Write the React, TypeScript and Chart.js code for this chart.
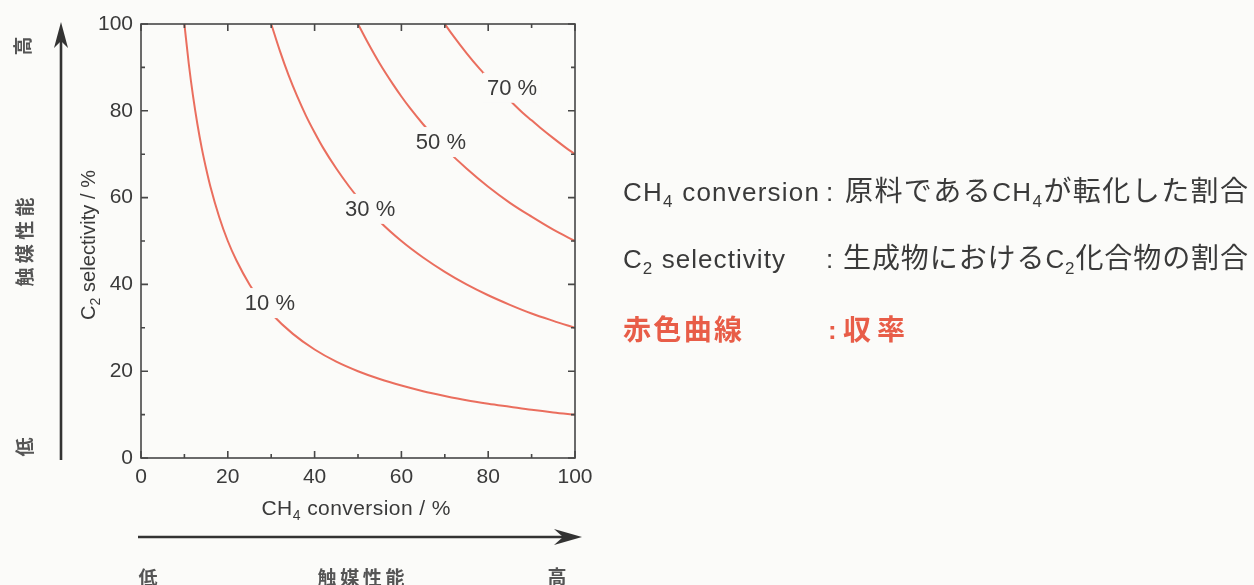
import React, { useEffect, useRef } from "react";
import { Chart, registerables } from "chart.js";
Chart.register(...registerables);

// ---- data ----
const xTicks = [0, 20, 40, 60, 80, 100];
const yTicks = [0, 20, 40, 60, 80, 100];
const minorTicks = [10, 30, 50, 70, 90];

const yieldNames = ["10 %", "30 %", "50 %", "70 %"];
const yieldLabelX = [29.7, 52.8, 69.1, 85.5];
const yieldLabelY = [35.7, 57.4, 72.8, 85.3];

const conv10 = [10, 11, 12, 13, 14, 15, 16, 18, 20, 22, 25, 28, 30, 35, 40, 45, 50, 55, 60, 65, 70, 75, 80, 85, 90, 95, 100];
const sel10 = [100, 90.9, 83.3, 76.9, 71.4, 66.7, 62.5, 55.6, 50, 45.5, 40, 35.7, 33.3, 28.6, 25, 22.2, 20, 18.2, 16.7, 15.4, 14.3, 13.3, 12.5, 11.8, 11.1, 10.5, 10];

const conv30 = [30, 32, 34, 36, 38, 40, 42, 45, 48, 50, 55, 60, 65, 70, 75, 80, 85, 90, 95, 100];
const sel30 = [100, 93.8, 88.2, 83.3, 78.9, 75, 71.4, 66.7, 62.5, 60, 54.5, 50, 46.2, 42.9, 40, 37.5, 35.3, 33.3, 31.6, 30];

const conv50 = [50, 52, 55, 58, 60, 62, 65, 68, 70, 75, 80, 85, 90, 95, 100];
const sel50 = [100, 96.2, 90.9, 86.2, 83.3, 80.6, 76.9, 73.5, 71.4, 66.7, 62.5, 58.8, 55.6, 52.6, 50];

const conv70 = [70, 72, 75, 78, 80, 82, 85, 88, 90, 92, 95, 98, 100];
const sel70 = [100, 97.2, 93.3, 89.7, 87.5, 85.4, 82.4, 79.5, 77.8, 76.1, 73.7, 71.4, 70];

const seriesX = [conv10, conv30, conv50, conv70];
const seriesY = [sel10, sel30, sel50, sel70];

// ---- styles ----
const W = 1254;
const H = 585;
const BG = "#fbfbf9";
const CURVE = "#ea6e5e";
const RED = "#e85d48";
const TEXT = "#3a3a3a";
const FRAME = "#474747";
const LAT = "'Liberation Sans', Arial, sans-serif";
const JP = "'Noto Sans CJK JP', 'Noto Sans CJK SC', sans-serif";

type Seg = { t: string; font: string; dy?: number };

function drawSegs(ctx: CanvasRenderingContext2D, segs: Seg[], x: number, y: number, target?: number) {
  (ctx as any).letterSpacing = "0px";
  const widths = segs.map((s) => {
    ctx.font = s.font;
    return ctx.measureText(s.t).width;
  });
  const natural = widths.reduce((a, b) => a + b, 0);
  const nChars = segs.reduce((a, s) => a + Array.from(s.t).length, 0);
  const extra = target ? (target - natural) / Math.max(1, nChars - 1) : 0;
  let cx = x;
  segs.forEach((s, i) => {
    ctx.font = s.font;
    (ctx as any).letterSpacing = extra + "px";
    ctx.fillText(s.t, cx, y + (s.dy || 0));
    cx += widths[i] + extra * Array.from(s.t).length;
  });
  (ctx as any).letterSpacing = "0px";
  return cx - x;
}

function segsWidth(ctx: CanvasRenderingContext2D, segs: Seg[]) {
  (ctx as any).letterSpacing = "0px";
  return segs.reduce((a, s) => {
    ctx.font = s.font;
    return a + ctx.measureText(s.t).width;
  }, 0);
}

const decor = {
  id: "decor",
  beforeDraw(chart: any) {
    const ctx = chart.ctx;
    ctx.save();
    ctx.fillStyle = BG;
    ctx.fillRect(0, 0, chart.width, chart.height);
    ctx.restore();
  },
  afterDatasetsDraw(chart: any) {
    const ctx = chart.ctx as CanvasRenderingContext2D;
    const xs = chart.scales.x;
    const ys = chart.scales.y;
    ctx.save();
    ctx.font = `22px ${LAT}`;
    ctx.textAlign = "center";
    ctx.textBaseline = "middle";
    yieldNames.forEach((n, i) => {
      const px = xs.getPixelForValue(yieldLabelX[i]);
      const py = ys.getPixelForValue(yieldLabelY[i]);
      const w = ctx.measureText(n).width + 8;
      ctx.fillStyle = BG;
      ctx.fillRect(px - w / 2, py - 15, w, 30);
      ctx.fillStyle = TEXT;
      ctx.fillText(n, px, py + 1);
    });
    ctx.restore();
  },
  afterDraw(chart: any) {
    const ctx = chart.ctx as CanvasRenderingContext2D;
    const a = chart.chartArea;
    const xs = chart.scales.x;
    const ys = chart.scales.y;
    ctx.save();
    // frame
    ctx.strokeStyle = FRAME;
    ctx.lineWidth = 1.6;
    ctx.strokeRect(a.left, a.top, a.right - a.left, a.bottom - a.top);
    // ticks (inward, mirrored)
    const tick = (v: number, len: number) => {
      const px = xs.getPixelForValue(v);
      ctx.beginPath();
      ctx.moveTo(px, a.bottom);
      ctx.lineTo(px, a.bottom - len);
      ctx.moveTo(px, a.top);
      ctx.lineTo(px, a.top + len);
      ctx.stroke();
      const py = ys.getPixelForValue(v);
      ctx.beginPath();
      ctx.moveTo(a.left, py);
      ctx.lineTo(a.left + len, py);
      ctx.moveTo(a.right, py);
      ctx.lineTo(a.right - len, py);
      ctx.stroke();
    };
    xTicks.forEach((v) => tick(v, 7));
    minorTicks.forEach((v) => tick(v, 4));

    // axis titles
    ctx.fillStyle = TEXT;
    ctx.textAlign = "left";
    ctx.textBaseline = "alphabetic";
    const xTitle: Seg[] = [
      { t: "CH", font: `21px ${LAT}` },
      { t: "4", font: `14px ${LAT}`, dy: 5 },
      { t: " conversion / %", font: `21px ${LAT}` },
    ];
    const xcx = (a.left + a.right) / 2 - 2;
    drawSegs(ctx, xTitle, xcx - 189 / 2, 515, 189);

    const yTitle: Seg[] = [
      { t: "C", font: `20px ${LAT}` },
      { t: "2", font: `14px ${LAT}`, dy: 5 },
      { t: " selectivity / %", font: `20px ${LAT}` },
    ];
    ctx.save();
    ctx.translate(88, 245);
    ctx.rotate(-Math.PI / 2);
    drawSegs(ctx, yTitle, -75, 7, 150);
    ctx.restore();

    // arrows
    ctx.strokeStyle = "#333";
    ctx.fillStyle = "#333";
    ctx.lineWidth = 2.6;
    ctx.beginPath();
    ctx.moveTo(61, 460);
    ctx.lineTo(61, 30);
    ctx.stroke();
    ctx.beginPath();
    ctx.moveTo(61, 22);
    ctx.lineTo(54, 48);
    ctx.lineTo(61, 41);
    ctx.lineTo(68, 48);
    ctx.closePath();
    ctx.fill();

    ctx.beginPath();
    ctx.moveTo(138, 537);
    ctx.lineTo(574, 537);
    ctx.stroke();
    ctx.beginPath();
    ctx.moveTo(582, 537);
    ctx.lineTo(554, 529);
    ctx.lineTo(563, 537);
    ctx.lineTo(554, 545);
    ctx.closePath();
    ctx.fill();

    // JP performance labels
    ctx.fillStyle = "#555";
    ctx.textBaseline = "middle";
    ctx.textAlign = "left";
    const jpb = `bold 19px ${JP}`;
    const rot = (t: string, cx: number, cy: number, len?: number) => {
      ctx.save();
      ctx.translate(cx, cy);
      ctx.rotate(-Math.PI / 2);
      const segs = [{ t, font: jpb }];
      const w = len || segsWidth(ctx, segs);
      drawSegs(ctx, segs, -w / 2, 0, len);
      ctx.restore();
    };
    rot("高", 23, 46);
    rot("触媒性能", 25, 242, 89);
    rot("低", 25, 447);
    const hor = (t: string, cx: number, cy: number, len?: number) => {
      const segs = [{ t, font: jpb }];
      const w = len || segsWidth(ctx, segs);
      drawSegs(ctx, segs, cx - w / 2, cy, len);
    };
    hor("低", 148, 578);
    hor("触媒性能", 361, 578, 87);
    hor("高", 557, 577);

    // right-hand explanation
    ctx.textBaseline = "alphabetic";
    ctx.fillStyle = TEXT;
    const L = `26px ${LAT}`;
    const LS = `17px ${LAT}`;
    const J = `28px ${JP}`;
    drawSegs(ctx, [{ t: "CH", font: L }, { t: "4", font: LS, dy: 6 }, { t: " conversion", font: L }], 623, 201, 196);
    drawSegs(ctx, [{ t: ":", font: L }], 826, 201);
    drawSegs(
      ctx,
      [
        { t: "原料である", font: J },
        { t: "CH", font: L },
        { t: "4", font: LS, dy: 6 },
        { t: "が転化した割合", font: J },
      ],
      845,
      201,
      403
    );
    drawSegs(ctx, [{ t: "C", font: L }, { t: "2", font: LS, dy: 6 }, { t: " selectivity", font: L }], 623, 268, 162);
    drawSegs(ctx, [{ t: ":", font: L }], 826, 268);
    drawSegs(
      ctx,
      [
        { t: "生成物における", font: J },
        { t: "C", font: L },
        { t: "2", font: LS, dy: 6 },
        { t: "化合物の割合", font: J },
      ],
      843,
      268,
      405
    );
    ctx.fillStyle = RED;
    const JB = `bold 28px ${JP}`;
    drawSegs(ctx, [{ t: "赤色曲線", font: JB }], 623, 340, 119);
    drawSegs(ctx, [{ t: ":", font: `bold 26px ${LAT}` }], 828, 339);
    drawSegs(ctx, [{ t: "収率", font: JB }], 843, 340, 62);
    ctx.restore();
  },
};

export default function App() {
  const ref = useRef<HTMLCanvasElement | null>(null);
  useEffect(() => {
    document.body.style.margin = "0";
    document.body.style.background = BG;
    const canvas = ref.current!;
    const chart = new Chart(canvas, {
      type: "scatter",
      data: {
        datasets: seriesX.map((xs, i) => ({
          label: yieldNames[i],
          data: xs.map((x, j) => ({ x, y: seriesY[i][j] })),
          showLine: true,
          borderColor: CURVE,
          backgroundColor: CURVE,
          borderWidth: 2,
          pointRadius: 0,
          cubicInterpolationMode: "monotone" as const,
          fill: false,
        })),
      },
      options: {
        responsive: false,
        animation: false,
        devicePixelRatio: 1,
        events: [],
        layout: { padding: { left: 141 - 45, right: W - 575, top: 24, bottom: H - 458 - 40 } },
        plugins: { legend: { display: false }, tooltip: { enabled: false } },
        scales: {
          x: {
            type: "linear",
            min: 0,
            max: 100,
            afterBuildTicks: (s: any) => {
              s.ticks = xTicks.map((v) => ({ value: v }));
            },
            afterFit: (s: any) => {
              s.height = 40;
            },
            grid: { display: false, drawTicks: false },
            border: { display: false },
            ticks: { font: { family: LAT, size: 21 }, color: TEXT, padding: 7, maxRotation: 0, autoSkip: false },
          },
          y: {
            type: "linear",
            min: 0,
            max: 100,
            afterBuildTicks: (s: any) => {
              s.ticks = yTicks.map((v) => ({ value: v }));
            },
            afterFit: (s: any) => {
              s.width = 45;
            },
            grid: { display: false, drawTicks: false },
            border: { display: false },
            ticks: { font: { family: LAT, size: 21 }, color: TEXT, padding: 8, autoSkip: false },
          },
        },
      },
      plugins: [decor],
    });
    return () => chart.destroy();
  }, []);
  return (
    <div style={{ position: "fixed", left: 0, top: 0, width: W, height: H, background: BG }}>
      <canvas ref={ref} width={W} height={H} style={{ width: W, height: H, display: "block" }} />
    </div>
  );
}
